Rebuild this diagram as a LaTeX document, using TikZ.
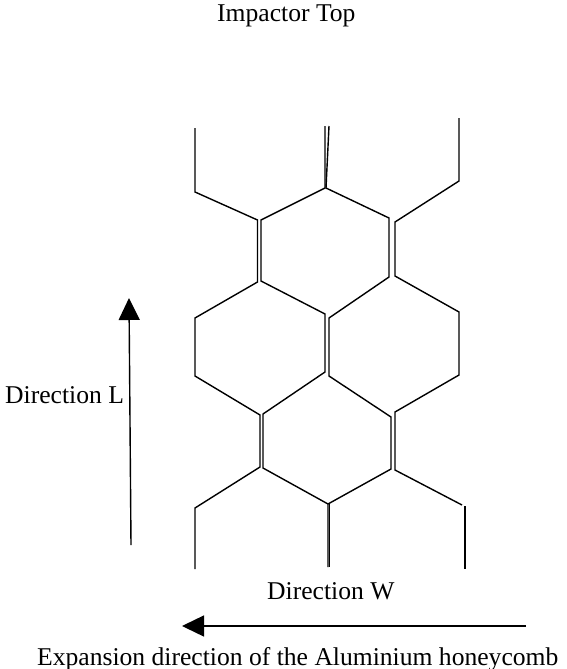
\documentclass[tikz,border=0pt]{standalone}
\usepackage{fontspec}
\setmainfont{Liberation Serif}
\usetikzlibrary{arrows.meta}
\tikzset{
	cellwall/.style={black, line width=1.4pt},
	dirarrow/.style={black, line width=1.4pt, -{Triangle[length=22pt,width=21pt]}},
	caption/.style={draw=none, text=black, font=\fontsize{25.6pt}{30pt}\selectfont, inner sep=0pt, anchor=base west}
}
\begin{document}
\begin{tikzpicture}[x=1pt, y=-1pt]
	\useasboundingbox (0,0) rectangle (566,669);

	\node[caption] (top) at (217,22) {Impactor Top};
	\node[caption] (dirl) at (5,403) {Direction L};
	\node[caption] (dirw) at (267,599) {Direction W};
	\node[caption] (expansion) at (37,665) {Expansion direction of the Aluminium honeycomb};

	% upper row
	\draw[cellwall] (195,128) -- (195,192) -- (257.5,220) -- (257.5,282) -- (195,318) -- (195,376) -- (260,415) -- (260,467) -- (195,508) -- (195,569);
	\draw[cellwall] (325,126) -- (325,188) -- (261,220) -- (261,281) -- (325,314) -- (325,372) -- (263,414) -- (263,468) -- (328,504) -- (328,567);
	\draw[cellwall] (329,126) -- (326,188) -- (389,218) -- (389,277) -- (329,318) -- (329,376) -- (391,417) -- (391,469) -- (328,504);
	\draw[cellwall] (459,118) -- (459,181) -- (395,222) -- (395,276) -- (459,312) -- (459,375) -- (395,412) -- (395,470) -- (462,505);
	\draw[cellwall] (465,506) -- (465,569);
	\draw[cellwall] (329.5,504) -- (329.5,567);

	% direction arrows
	\coordinate (lstart) at (131,545);
	\coordinate (lend) at (129,298);
	\coordinate (wstart) at (526,626);
	\coordinate (wend) at (182,626);
	\draw[dirarrow] (lstart) -- (lend);
	\draw[dirarrow] (wstart) -- (wend);
\end{tikzpicture}
\end{document}
